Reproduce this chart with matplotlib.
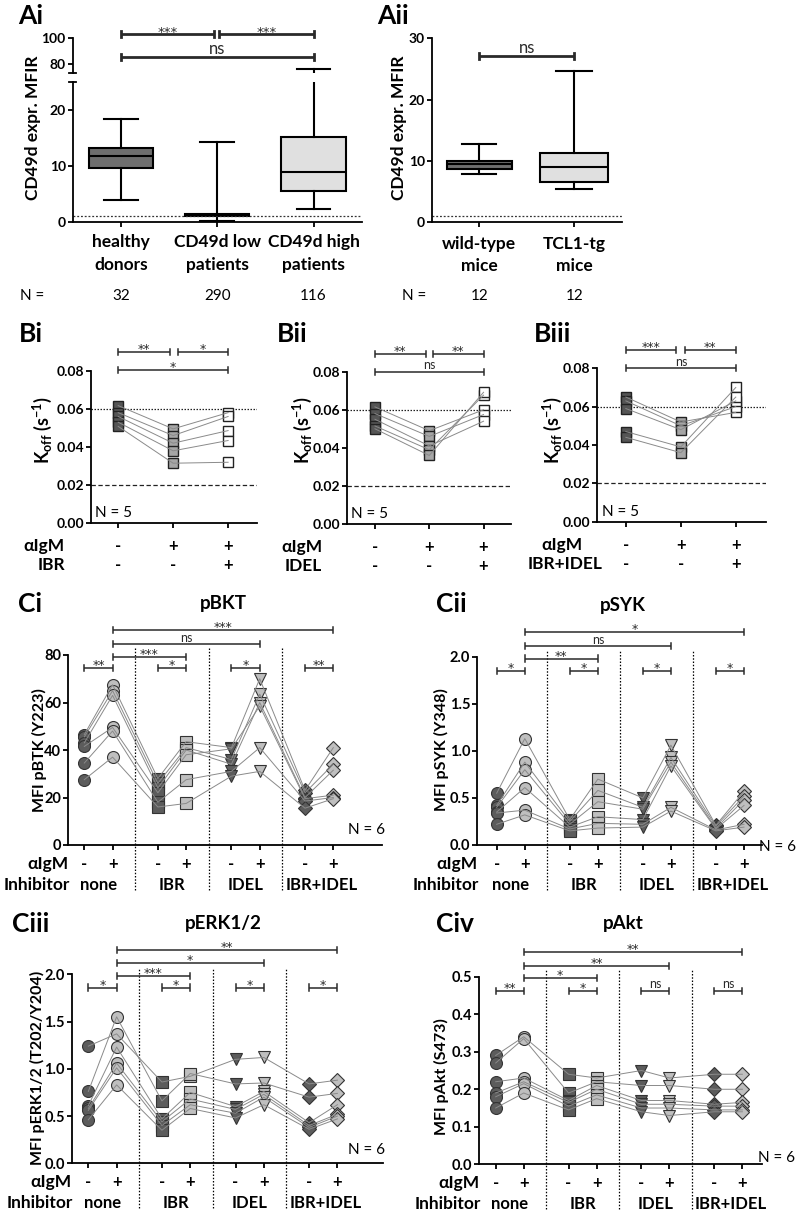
import numpy as np
import matplotlib.pyplot as plt

plt.rcParams['font.family'] = ['Lato', 'DejaVu Sans']
plt.rcParams['axes.linewidth'] = 1.3

W, H = 796, 1211
fig = plt.figure(figsize=(W / 100, H / 100), dpi=100)

# ---------------- data ----------------
# Ai: CD49d expression (MFIR) box plots
ai_groups = [['healthy', 'donors'], ['CD49d low', 'patients'], ['CD49d high', 'patients']]
ai_n = [32, 290, 116]
ai_lo = [3.9, 0.1, 2.2]
ai_q1 = [9.7, 0.95, 5.5]
ai_med = [11.8, 1.2, 9.0]
ai_q3 = [13.15, 1.45, 15.2]
ai_hi = [18.35, 14.3, 76.4]
ai_fill = ['#6e6e6e', '#4a4a4a', '#e0e0e0']

# Aii: mice
aii_groups = [['wild-type', 'mice'], ['TCL1-tg', 'mice']]
aii_n = [12, 12]
aii_lo = [7.9, 5.5]
aii_q1 = [8.75, 6.6]
aii_med = [9.45, 9.05]
aii_q3 = [10.0, 11.35]
aii_hi = [12.8, 24.6]
aii_fill = ['#6e6e6e', '#e0e0e0']

# B: Koff (s^-1), 5 donors, conditions: control / aIgM / aIgM + inhibitor
bi_ctrl = [0.0617, 0.058, 0.056, 0.053, 0.0508]
bi_igm = [0.0495, 0.046, 0.042, 0.038, 0.0315]
bi_inh = [0.058, 0.056, 0.0486, 0.0434, 0.032]

bii_ctrl = [0.0615, 0.058, 0.055, 0.0515, 0.050]
bii_igm = [0.049, 0.046, 0.041, 0.039, 0.036]
bii_inh = [0.060, 0.0575, 0.054, 0.0677, 0.0692]

biii_ctrl = [0.065, 0.063, 0.059, 0.047, 0.044]
biii_igm = [0.052, 0.050, 0.048, 0.039, 0.036]
biii_inh = [0.057, 0.060, 0.063, 0.070, 0.065]

# C: MFI per condition (8 conditions x 6 donors)
c_pos = [0, 1, 2.6, 3.6, 5.2, 6.2, 7.8, 8.8]
c_igm = ['-', '+', '-', '+', '-', '+', '-', '+']
c_inhib = ['none', 'IBR', 'IDEL', 'IBR+IDEL']
c_div = [1.8, 4.4, 7.0]

ci_pbtk = [[46.5, 45.5, 43, 41.5, 34.5, 27.5],
           [67.5, 65, 63, 49.5, 48, 37],
           [28, 26, 24, 22, 18, 16],
           [43.5, 41, 40, 38, 27.5, 17.5],
           [41, 36, 34, 40.5, 31, 29],
           [70, 63.5, 60, 58.5, 41, 31],
           [23, 22, 20, 19.5, 18.5, 15.5],
           [41, 34, 31.5, 21, 20, 19.5]]

cii_psyk = [[0.55, 0.42, 0.40, 0.35, 0.34, 0.22],
            [1.13, 0.88, 0.80, 0.61, 0.37, 0.32],
            [0.27, 0.25, 0.22, 0.19, 0.17, 0.15],
            [0.70, 0.58, 0.46, 0.30, 0.23, 0.18],
            [0.50, 0.40, 0.38, 0.27, 0.22, 0.19],
            [1.06, 0.93, 0.88, 0.84, 0.40, 0.36],
            [0.21, 0.20, 0.18, 0.17, 0.16, 0.15],
            [0.57, 0.52, 0.48, 0.42, 0.22, 0.19]]

ciii_perk = [[1.24, 0.76, 0.61, 0.58, 0.56, 0.46],
             [1.37, 1.55, 1.23, 1.06, 1.01, 0.83],
             [0.86, 0.66, 0.47, 0.44, 0.40, 0.35],
             [0.92, 0.95, 0.75, 0.68, 0.62, 0.58],
             [1.10, 0.84, 0.60, 0.57, 0.53, 0.48],
             [1.12, 0.85, 0.76, 0.73, 0.70, 0.62],
             [0.84, 0.70, 0.43, 0.40, 0.38, 0.36],
             [0.88, 0.74, 0.62, 0.52, 0.50, 0.47]]

civ_pakt = [[0.29, 0.27, 0.22, 0.19, 0.18, 0.15],
            [0.34, 0.335, 0.23, 0.22, 0.215, 0.19],
            [0.24, 0.19, 0.17, 0.165, 0.155, 0.145],
            [0.23, 0.22, 0.21, 0.20, 0.185, 0.175],
            [0.25, 0.21, 0.17, 0.16, 0.15, 0.14],
            [0.23, 0.21, 0.17, 0.16, 0.15, 0.13],
            [0.24, 0.20, 0.16, 0.155, 0.145, 0.14],
            [0.24, 0.20, 0.165, 0.155, 0.145, 0.14]]

DARK = '#5c5c5c'
LIGHT = '#bfbfbf'
LINEC = '#8a8a8a'


# ---------------- helpers ----------------
def rect(l, t, r, b):
    return [l / W, 1 - b / H, (r - l) / W, (b - t) / H]


def ptext(x, y, s, **kw):
    fig.text(x / W, 1 - y / H, s, **kw)


def style(ax, yticks, ylabels, fs):
    ax.spines['top'].set_visible(False)
    ax.spines['right'].set_visible(False)
    ax.tick_params(direction='out', length=3.5, width=1.3, pad=1.5)
    ax.set_yticks(yticks, ylabels, fontsize=fs, fontweight='bold')
    ax.patch.set_alpha(0)


def under(ax, x, dy, s, xcoord='data', **kw):
    kw.setdefault('ha', 'center')
    ax.annotate(s, xy=(x, 0), xycoords=(xcoord, 'axes fraction'),
                xytext=(0, -dy * 0.72), textcoords='offset points',
                va='center', annotation_clip=False, **kw)


def sig(ax, x1, x2, y, txt, h, fs=9, lw=1.1, color='#2a2a2a', dy=0.5):
    ax.plot([x1, x2], [y, y], color=color, lw=lw, clip_on=False, solid_capstyle='butt')
    ax.plot([x1, x1], [y - h, y + h], color=color, lw=lw, clip_on=False)
    ax.plot([x2, x2], [y - h, y + h], color=color, lw=lw, clip_on=False)
    kw = {}
    if set(txt) == {'*'}:
        kw['family'] = 'DejaVu Sans'
        dy = dy - 3.2
    ax.annotate(txt, xy=((x1 + x2) / 2, y), xytext=(0, dy), textcoords='offset points',
                ha='center', va='bottom', fontsize=fs, color=color, annotation_clip=False, **kw)


def boxes(ax, pos, lo, q1, med, q3, hi, fills, widths):
    stats = [dict(whislo=a, q1=b, med=c, q3=d, whishi=e, fliers=[])
             for a, b, c, d, e in zip(lo, q1, med, q3, hi)]
    bp = ax.bxp(stats, positions=pos, widths=widths, capwidths=[w * 0.52 for w in widths],
                patch_artist=True, showfliers=False, manage_ticks=False,
                boxprops=dict(linewidth=1.5, edgecolor='black'),
                medianprops=dict(color='black', linewidth=1.5),
                whiskerprops=dict(linewidth=1.5), capprops=dict(linewidth=1.5))
    for patch, c in zip(bp['boxes'], fills):
        patch.set_facecolor(c)


# ---------------- Ai ----------------
ax_lo = fig.add_axes(rect(72.7, 82.3, 361.7, 221.7))
ax_up = fig.add_axes(rect(72.7, 38.3, 361.7, 73.3))
x_ai = np.arange(len(ai_n))
for ax in (ax_lo, ax_up):
    boxes(ax, x_ai, ai_lo, ai_q1, ai_med, ai_q3, ai_hi, ai_fill, [0.67] * 3)
    ax.set_xlim(-0.5, 2.5)
style(ax_lo, [0, 10, 20], ['0', '10', '20'], 10)
ax_lo.set_ylim(0, 25)
ax_lo.set_xticks(x_ai, [''] * 3)
ax_lo.axhline(1, color='#333333', lw=0.9, ls=(0, (1.5, 1.5)))
style(ax_up, [80, 100], ['80', '100'], 10)
ax_up.set_ylim(73.1, 100)
ax_up.spines['bottom'].set_visible(False)
ax_up.set_xticks([])
for ax, yy in ((ax_lo, 1), (ax_up, 0)):
    ax.plot([-0.012, 0.012], [yy, yy], transform=ax.transAxes, color='black', lw=1.3, clip_on=False)
sig(ax_up, 0, 0.965, 103.1, '***', 2.3, fs=9.5, lw=2, dy=0)
sig(ax_up, 1.02, 2, 103.1, '***', 2.3, fs=9.5, lw=2, dy=0)
sig(ax_up, 0, 2, 85.8, 'ns', 2.3, fs=12, lw=2, dy=0)
for i, lab in enumerate(ai_groups):
    under(ax_lo, i, 20, lab[0], fontsize=12.5, fontweight='bold')
    under(ax_lo, i, 43, lab[1], fontsize=12.5, fontweight='bold')
    under(ax_lo, i, 74, str(ai_n[i]), fontsize=11)
ptext(20, 296, 'N =', fontsize=11, va='center')
ptext(33, 128, 'CD49d expr. MFIR', rotation=90, fontsize=12.5, fontweight='bold', ha='center', va='center')
ptext(18, 16, 'Ai', fontsize=19, fontweight='bold', va='center')

# ---------------- Aii ----------------
ax = fig.add_axes(rect(431.7, 38.3, 621.7, 222.3))
x_aii = np.arange(len(aii_n))
boxes(ax, x_aii, aii_lo, aii_q1, aii_med, aii_q3, aii_hi, aii_fill, [0.68, 0.72])
style(ax, [0, 10, 20, 30], ['0', '10', '20', '30'], 10)
ax.set_xlim(-0.5, 1.5)
ax.set_ylim(0, 30)
ax.set_xticks(x_aii, [''] * 2)
ax.axhline(1, color='#333333', lw=0.9, ls=(0, (1.5, 1.5)))
sig(ax, 0, 1, 27.1, 'ns', 0.5, fs=12, lw=2, dy=0)
for i, lab in enumerate(aii_groups):
    under(ax, i, 22, lab[0], fontsize=12.5, fontweight='bold')
    under(ax, i, 44, lab[1], fontsize=12.5, fontweight='bold')
    under(ax, i, 74, str(aii_n[i]), fontsize=11)
ptext(402, 296, 'N =', fontsize=11, va='center')
ptext(399, 128, 'CD49d expr. MFIR', rotation=90, fontsize=12.5, fontweight='bold', ha='center', va='center')
ptext(377, 16, 'Aii', fontsize=19, fontweight='bold', va='center')


# ---------------- B ----------------
def panel_b(box_px, xlim, ctrl, igm, inh, bars, tag, tag_x, ylab_x, lab_x, inh_lab, inh_x, inh_ha):
    ax = fig.add_axes(rect(*box_px))
    x = np.arange(3)
    for a, b, c in zip(ctrl, igm, inh):
        ax.plot(x, [a, b, c], color=LINEC, lw=0.7, zorder=4)
    for xi, vals, fc in zip(x, (ctrl, igm, inh), ('#555555', '#a6a6a6', 'white')):
        ax.plot([xi] * len(vals), vals, 's', ms=7.9, mfc=fc, mec='#222222', mew=1.0, zorder=3, clip_on=False)
    ax.axhline(0.06, color='#222222', lw=0.9, ls=(0, (1.2, 1.2)), zorder=1)
    ax.axhline(0.02, color='#222222', lw=0.9, ls=(0, (3.5, 2)), zorder=1)
    style(ax, [0, 0.02, 0.04, 0.06, 0.08], ['0.00', '0.02', '0.04', '0.06', '0.08'], 10)
    ax.set_xlim(*xlim)
    ax.set_ylim(0, 0.08)
    ax.set_xticks(x, [''] * 3)
    for x1, x2, y, t in bars:
        sig(ax, x1, x2, y, t, 0.0016, fs=9, lw=1.1, dy=0.3)
    ax.text(0.025, 0.065, 'N = 5', transform=ax.transAxes, fontsize=11, va='center')
    for xi, s1, s2 in zip(x, ['-', '+', '+'], ['-', '-', '+']):
        under(ax, xi, 23, s1, fontsize=12, fontweight='bold')
        under(ax, xi, 42, s2, fontsize=12, fontweight='bold')
    b = box_px[3]
    ptext(lab_x, b + 23, '\u03b1IgM', fontsize=12.5, fontweight='bold', ha='right', va='center')
    ptext(inh_x, b + 42, inh_lab, fontsize=12.5, fontweight='bold', ha=inh_ha, va='center')
    ptext(ylab_x, 430, r'K$_{\mathregular{off}}$ (s$^{\mathregular{-1}}$)', rotation=90,
          fontsize=13, fontweight='bold', ha='center', va='center')
    ptext(tag_x, 334, tag, fontsize=19, fontweight='bold', va='center')


panel_b((90.7, 370.7, 256.7, 523.3), (-0.5, 2.52), bi_ctrl, bi_igm, bi_inh,
        [(0, 0.94, 0.0898, '**'), (1.08, 2, 0.0898, '*'), (0, 2, 0.0803, '*')],
        'Bi', 19, 42, 65, 'IBR', 65, 'right')
panel_b((347.3, 371.7, 510.7, 524), (-0.51, 2.5), bii_ctrl, bii_igm, bii_inh,
        [(0, 0.935, 0.0891, '**'), (1.065, 2, 0.0891, '**'), (0, 2, 0.080, 'ns')],
        'Bii', 277, 302, 322, 'IDEL', 322, 'right')
panel_b((597.3, 368.3, 766, 521.7), (-0.52, 2.55), biii_ctrl, biii_igm, biii_inh,
        [(0, 0.92, 0.0896, '***'), (1.07, 2, 0.0896, '**'), (0, 2, 0.080, 'ns')],
        'Biii', 534, 552, 582, 'IBR+IDEL', 528, 'left')


# ---------------- C ----------------
def panel_c(box_px, xlim, ylim, yticks, ylabels, vals, bars, bar_h, div_top, tag, tag_xy,
            title, title_xy, ylab, ylab_xy, n_xy):
    ax = fig.add_axes(rect(*box_px))
    donors = np.array(vals).T
    for d in donors:
        ax.plot(c_pos, d, color=LINEC, lw=0.7, zorder=4)
    markers = ['o', 'o', 's', 's', 'v', 'v', 'D', 'D']
    sizes = [8.6, 8.6, 8.0, 8.0, 8.8, 8.8, 6.8, 6.8]
    for i, xi in enumerate(c_pos):
        fc = DARK if i % 2 == 0 else LIGHT
        ax.plot([xi] * len(vals[i]), vals[i], markers[i], ms=sizes[i], mfc=fc,
                mec='#333333', mew=0.8, zorder=3, clip_on=False)
    style(ax, yticks, ylabels, 10.5)
    ax.set_xlim(*xlim)
    ax.set_ylim(*ylim)
    ax.set_xticks(c_pos, [''] * 8)
    span = ylim[1] - ylim[0]
    bottom_px = box_px[3]
    ax_h = box_px[3] - box_px[1]
    div_bot = ylim[0] - (min(1211, bottom_px + 45) - bottom_px) / ax_h * span
    for xd in c_div:
        ax.plot([xd, xd], [div_bot, div_top], color='black', lw=0.9, ls=(0, (1.2, 1.4)),
                clip_on=False, zorder=1)
    for x1, x2, y, t in bars:
        sig(ax, x1, x2, y, t, bar_h, fs=9, lw=1.1, dy=0.2)
    for xi, s in zip(c_pos, c_igm):
        under(ax, xi, 19, s, fontsize=12, fontweight='bold')
    for k, lab in enumerate(c_inhib):
        xc = (c_pos[2 * k] + c_pos[2 * k + 1]) / 2 + (0.1 if k == 3 else 0)
        under(ax, xc, 40, lab, fontsize=12, fontweight='bold')
    under(ax, 0, 19, '\u03b1IgM', xcoord='axes fraction', fontsize=12.5, fontweight='bold', ha='right')
    under(ax, 0.005, 40, 'Inhibitor', xcoord='axes fraction', fontsize=12.5, fontweight='bold', ha='right')
    ptext(*tag_xy, tag, fontsize=19, fontweight='bold', va='center')
    ptext(*title_xy, title, fontsize=13.5, fontweight='bold', ha='center', va='center')
    ptext(*ylab_xy, ylab, rotation=90, fontsize=11.5, fontweight='bold', ha='center', va='center')
    ptext(*n_xy, 'N = 6', fontsize=11, va='center')


ylab01 = ['0.0', '0.5', '1.0', '1.5', '2.0']
panel_c((68.3, 655, 381.7, 845), (-0.565, 10.51), (0, 80), [0, 20, 40, 60, 80],
        ['0', '20', '40', '60', '80'], ci_pbtk,
        [(0, 1, 74.4, '**'), (1, 3.6, 79.3, '***'), (2.6, 3.6, 74.4, '*'),
         (5.2, 6.2, 74.4, '*'), (7.8, 8.8, 74.4, '**'), (1, 6.2, 84.5, 'ns'), (1, 8.8, 90.5, '***')],
        1.3, 82.8, 'Ci', (18, 604), 'pBKT', (223, 604), 'MFI pBTK (Y223)', (39, 750), (348, 830))
panel_c((477.3, 656.7, 761.7, 845), (-0.69, 9.43), (0, 2.0), [0, 0.5, 1.0, 1.5, 2.0], ylab01,
        cii_psyk,
        [(0, 1, 1.85, '*'), (1, 3.6, 1.98, '**'), (2.6, 3.6, 1.85, '*'),
         (5.2, 6.2, 1.85, '*'), (7.8, 8.8, 1.85, '*'), (1, 6.2, 2.11, 'ns'), (1, 8.8, 2.26, '*')],
        0.033, 2.07, 'Cii', (436, 604), 'pSYK', (623, 605), 'MFI pSYK (Y348)', (441, 750), (759, 847))
panel_c((71.7, 974.3, 383, 1163.3), (-0.587, 10.41), (0, 2.0), [0, 0.5, 1.0, 1.5, 2.0], ylab01,
        ciii_perk,
        [(0, 1, 1.86, '*'), (1, 3.6, 1.98, '***'), (2.6, 3.6, 1.86, '*'),
         (5.2, 6.2, 1.86, '*'), (7.8, 8.8, 1.86, '*'), (1, 6.2, 2.12, '*'), (1, 8.8, 2.26, '**')],
        0.033, 2.06, 'Ciii', (12, 924), 'pERK1/2', (223, 923), 'MFI pERK1/2 (T202/Y204)', (37, 1068),
        (348, 1150))
panel_c((479.3, 976.7, 761.7, 1164.3), (-0.585, 9.49), (0, 0.5), [0, 0.1, 0.2, 0.3, 0.4, 0.5],
        ['0.0', '0.1', '0.2', '0.3', '0.4', '0.5'], civ_pakt,
        [(0, 1, 0.463, '**'), (1, 3.6, 0.496, '*'), (2.6, 3.6, 0.463, '*'),
         (5.2, 6.2, 0.463, 'ns'), (7.8, 8.8, 0.463, 'ns'), (1, 6.2, 0.529, '**'), (1, 8.8, 0.567, '**')],
        0.008, 0.518, 'Civ', (436, 924), 'pAkt', (623, 923), 'MFI pAkt (S473)', (441, 1077), (758, 1158))

fig.savefig('out.png', dpi=100)
